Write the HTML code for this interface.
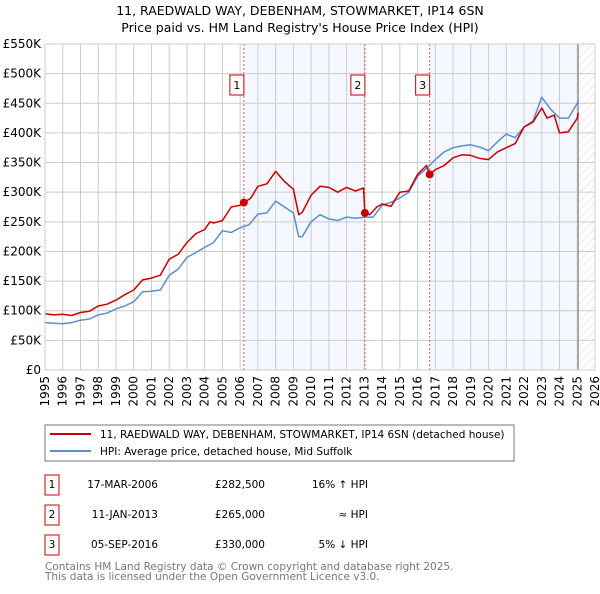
<!DOCTYPE html>
<html><head><meta charset="utf-8"><style>
body{margin:0;background:#fff;width:600px;height:590px;overflow:hidden;font-family:"DejaVu Sans","Liberation Sans",sans-serif}
svg text{font-family:"DejaVu Sans","Liberation Sans",sans-serif}
</style></head><body>
<svg id="c" width="600" height="590" viewBox="0 0 600 590">
<defs><pattern id="hatch" width="6" height="6" patternUnits="userSpaceOnUse" patternTransform="rotate(45)"><line x1="0" y1="0" x2="0" y2="6" stroke="#d8d8d8" stroke-width="1"/></pattern></defs>
<text x="300" y="15" text-anchor="middle" font-size="12.5">11, RAEDWALD WAY, DEBENHAM, STOWMARKET, IP14 6SN</text>
<text x="300" y="32" text-anchor="middle" font-size="12.5">Price paid vs. HM Land Registry's House Price Index (HPI)</text>
<g id="plot"></g>
<rect x="45" y="425" width="469" height="36" fill="#fff" stroke="#777"/>
<line x1="50" y1="434" x2="91" y2="434" stroke="#cc0000" stroke-width="2"/>
<text x="100" y="438" font-size="10.5">11, RAEDWALD WAY, DEBENHAM, STOWMARKET, IP14 6SN (detached house)</text>
<line x1="50" y1="451" x2="91" y2="451" stroke="#5b8fd0" stroke-width="2"/>
<text x="100" y="455" font-size="10.5">HPI: Average price, detached house, Mid Suffolk</text>
<g font-size="10.5">
<rect x="45" y="475" width="14" height="20" fill="#fff" stroke="#cc0000"/><text x="52" y="488" text-anchor="middle">1</text>
<text x="158" y="488" text-anchor="end">17-MAR-2006</text>
<text x="265" y="488" text-anchor="end">£282,500</text>
<text x="368" y="488" text-anchor="end">16% ↑ HPI</text>
<rect x="45" y="505" width="14" height="20" fill="#fff" stroke="#cc0000"/><text x="52" y="518" text-anchor="middle">2</text>
<text x="158" y="518" text-anchor="end">11-JAN-2013</text>
<text x="265" y="518" text-anchor="end">£265,000</text>
<text x="368" y="518" text-anchor="end">≈ HPI</text>
<rect x="45" y="535" width="14" height="20" fill="#fff" stroke="#cc0000"/><text x="52" y="548" text-anchor="middle">3</text>
<text x="158" y="548" text-anchor="end">05-SEP-2016</text>
<text x="265" y="548" text-anchor="end">£330,000</text>
<text x="368" y="548" text-anchor="end">5% ↓ HPI</text>
</g>
<text x="45" y="570" font-size="10.5" fill="#777">Contains HM Land Registry data © Crown copyright and database right 2025.</text>
<text x="45" y="580" font-size="10.5" fill="#777">This data is licensed under the Open Government Licence v3.0.</text>
</svg>
<script>
const yearTicks=[1995,1996,1997,1998,1999,2000,2001,2002,2003,2004,2005,2006,2007,2008,2009,2010,2011,2012,2013,2014,2015,2016,2017,2018,2019,2020,2021,2022,2023,2024,2025,2026];
const valueTicks=[0,50,100,150,200,250,300,350,400,450,500,550];
const valueLabels=["£0","£50K","£100K","£150K","£200K","£250K","£300K","£350K","£400K","£450K","£500K","£550K"];
const saleYears=[2006.21,2013.03,2016.68];
const salePrices=[282.5,265,330];
const saleLabels=["1","2","3"];
const priceYears=[1995,1995.5,1996,1996.5,1997,1997.5,1998,1998.5,1999,1999.5,2000,2000.5,2001,2001.5,2002,2002.5,2003,2003.5,2004,2004.3,2004.5,2005,2005.5,2006,2006.21,2006.6,2007,2007.5,2008,2008.5,2009,2009.3,2009.5,2010,2010.5,2011,2011.5,2012,2012.5,2012.95,2013.03,2013.3,2013.7,2014,2014.5,2015,2015.5,2016,2016.5,2016.68,2017,2017.5,2018,2018.5,2019,2019.5,2020,2020.5,2021,2021.5,2022,2022.5,2023,2023.3,2023.7,2024,2024.5,2025,2025.05];
const priceValues=[95,93,94,92,97,99,108,111,118,127,135,152,155,160,187,195,215,230,237,250,248,252,275,278,282.5,290,310,314,335,318,305,262,266,295,310,308,300,308,302,307,265,262,275,280,276,300,302,330,345,330,338,345,358,363,362,357,355,368,375,382,410,418,442,425,430,400,402,425,434];
const hpiYears=[1995,1995.5,1996,1996.5,1997,1997.5,1998,1998.5,1999,1999.5,2000,2000.5,2001,2001.5,2002,2002.5,2003,2003.5,2004,2004.5,2005,2005.5,2006,2006.5,2007,2007.5,2008,2008.5,2009,2009.3,2009.5,2010,2010.5,2011,2011.5,2012,2012.5,2013,2013.5,2014,2014.5,2015,2015.5,2016,2016.5,2017,2017.5,2018,2018.5,2019,2019.5,2020,2020.5,2021,2021.5,2022,2022.5,2023,2023.5,2024,2024.5,2025,2025.05];
const hpiValues=[80,79,78,80,84,86,93,96,103,108,115,132,133,135,160,170,190,198,207,215,235,232,240,245,263,265,285,275,265,225,225,250,262,255,252,258,256,258,258,278,283,290,300,327,340,355,368,375,378,380,376,370,385,398,392,410,420,460,440,425,425,450,455];

const NS="http://www.w3.org/2000/svg";
const L=45,R=595,T=44,B=370,Y0=1995,Y1=2026,VMAX=550;
const xs=y=>L+(y-Y0)/(Y1-Y0)*(R-L);
const ys=v=>B-v/VMAX*(B-T);
const g=document.getElementById('plot');
function mk(tag,attrs){const e=document.createElementNS(NS,tag);for(const k in attrs)e.setAttribute(k,attrs[k]);g.appendChild(e);return e;}
let e;
e=mk('rect',{x:xs(saleYears[0]),y:T,width:xs(saleYears[1])-xs(saleYears[0]),height:B-T,fill:'#f4f7fe'});


e=mk('rect',{x:xs(saleYears[2]),y:T,width:xs(2025.05)-xs(saleYears[2]),height:B-T,fill:'#f4f7fe'});


e=mk('rect',{x:xs(2025.05),y:T,width:R-xs(2025.05),height:B-T,fill:'url(#hatch)'});


yearTicks.forEach(y=>{
 e=mk('line',{x1:xs(y),x2:xs(y),y1:T,y2:B,stroke:'#ccc','stroke-width':1});
 
 
 const t=mk('text',{x:0,y:0,'font-size':12,'text-anchor':'end',transform:`translate(${xs(y)+4},${B+6}) rotate(-90)`});
 t.textContent=y;
 
 
});
valueTicks.forEach((v,i)=>{
 e=mk('line',{x1:L,x2:R,y1:ys(v),y2:ys(v),stroke:'#ccc','stroke-width':1});
 
 
 const t=mk('text',{x:L-4,y:ys(v)+4,'font-size':12,'text-anchor':'end'});
 t.textContent=valueLabels[i];
 
 
});
e=mk('line',{x1:xs(2025.05),x2:xs(2025.05),y1:T,y2:B,stroke:'#999','stroke-width':1.5});


saleYears.forEach((y,i)=>{
 e=mk('line',{x1:xs(y),x2:xs(y),y1:T,y2:B,stroke:'#e06060','stroke-width':1,'stroke-dasharray':'2,2'});
 
 
 e=mk('rect',{x:xs(y)-14,y:75,width:14,height:20,fill:'#fff',stroke:'#cc0000'});
 
 
 const t=mk('text',{x:xs(y)-7,y:89,'font-size':11,'text-anchor':'middle'});
 t.textContent=saleLabels[i];
 
 
});
function path(xsArr,vs,color,name){
 const d=xsArr.map((y,i)=>(i?'L':'M')+xs(y).toFixed(1)+','+ys(vs[i]).toFixed(1)).join('');
 const p=mk('path',{d:d,fill:'none',stroke:color,'stroke-width':1.5,'stroke-linejoin':'round'});
 
 
}
path(hpiYears,hpiValues,'#5b8fd0','hpi-line');
path(priceYears,priceValues,'#cc0000','price-line');
saleYears.forEach((y,i)=>{
 const c=mk('circle',{cx:xs(y),cy:ys(salePrices[i]),r:4,fill:'#cc0000'});
 
 
});
e=mk('rect',{x:L,y:T,width:R-L,height:B-T,fill:'none',stroke:'#ccc'});


</script>
</body></html>
